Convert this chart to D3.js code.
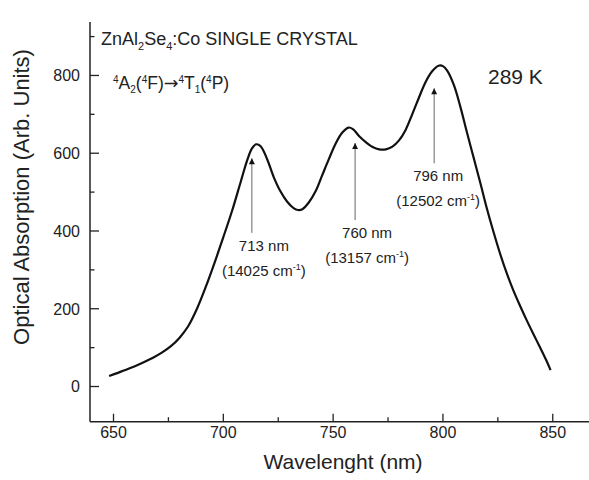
<!DOCTYPE html>
<html>
<head>
<meta charset="utf-8">
<script src="https://cdn.jsdelivr.net/npm/d3@7"></script>
<style>
  html, body { margin: 0; padding: 0; background: #fff; }
  svg { display: block; font-family: "Liberation Sans", Arial, sans-serif; }
</style>
</head>
<body>
<svg id="chart" width="589" height="480"></svg>
<script>
// Absorption spectrum of ZnAl2Se4:Co at 289 K
const wavelength = [648, 652, 656, 660, 664, 668, 672, 676, 680, 684, 688, 692, 696, 700, 704, 708, 711, 713, 715, 717,
  720, 723, 726, 729, 732, 734, 736, 739, 742, 745, 748, 751, 754, 757, 759, 762, 765, 768, 771, 774,
  777, 780, 783, 786, 789, 792, 795, 798, 800, 802, 805, 808, 811, 814, 817, 820, 823, 826, 829, 832,
  835, 838, 841, 844, 847, 849];
const absorption = [27, 35, 44, 53, 63, 74, 87, 103, 125, 155, 200, 256, 318, 384, 452, 528, 584, 612, 623, 618,
  584, 538, 502, 476, 459, 454, 456, 474, 502, 543, 584, 623, 652, 666, 662, 643, 628, 616, 610, 610,
  617, 633, 660, 700, 742, 782, 810, 825, 824, 812, 775, 718, 652, 588, 524, 458, 398, 342, 292, 248,
  209, 172, 137, 103, 68, 42];

// Peak annotations: wavelength (nm), wavenumber (cm-1), arrow tip / tail values
const peakNm = [713, 760, 796];
const peakWavenumber = [14025, 13157, 12502];
const arrowTip = [587, 626, 767];
const arrowTail = [395, 428, 574];

const xTicks = [650, 700, 750, 800, 850];
const xMinorTicks = [675, 725, 775, 825];
const yTicks = [0, 200, 400, 600, 800];
const yMinorTicks = [100, 300, 500, 700, 900];

const svg = d3.select("#chart");
const ink = "#222";

const x = d3.scaleLinear().domain([639.3, 866.5]).range([90, 589]);
const y = d3.scaleLinear().domain([-90.5, 937.5]).range([421.7, 22]);

// arrowhead marker
svg.append("defs").append("marker")
  .attr("id", "head")
  .attr("viewBox", "0 0 10 10")
  .attr("refX", 10).attr("refY", 5)
  .attr("markerUnits", "userSpaceOnUse")
  .attr("markerWidth", 9).attr("markerHeight", 6)
  .attr("orient", "auto")
  .append("path").attr("d", "M0,0 L10,5 L0,10 Z").attr("fill", "#111");

// axes (ticks point inward)
const xAxis = svg.append("g").attr("transform", `translate(0,${y.range()[0]})`);
xAxis.append("line").attr("x1", x.range()[0]).attr("x2", x.range()[1])
  .attr("stroke", ink).attr("stroke-width", 1.5);
xAxis.selectAll(".maj").data(xTicks).join("line")
  .attr("x1", d => x(d)).attr("x2", d => x(d)).attr("y1", 0).attr("y2", -8)
  .attr("stroke", ink).attr("stroke-width", 1.3);
xAxis.selectAll(".min").data(xMinorTicks).join("line")
  .attr("x1", d => x(d)).attr("x2", d => x(d)).attr("y1", 0).attr("y2", -4.5)
  .attr("stroke", ink).attr("stroke-width", 1.3);
xAxis.selectAll("text").data(xTicks).join("text")
  .attr("x", d => x(d)).attr("y", 16)
  .attr("text-anchor", "middle").attr("font-size", 16).attr("fill", ink)
  .text(d => d);

const yAxis = svg.append("g").attr("transform", `translate(${x.range()[0]},0)`);
yAxis.append("line").attr("y1", y.range()[0]).attr("y2", y.range()[1])
  .attr("stroke", ink).attr("stroke-width", 1.5);
yAxis.selectAll(".maj").data(yTicks).join("line")
  .attr("y1", d => y(d)).attr("y2", d => y(d)).attr("x1", 0).attr("x2", 9)
  .attr("stroke", ink).attr("stroke-width", 1.3);
yAxis.selectAll(".min").data(yMinorTicks).join("line")
  .attr("y1", d => y(d)).attr("y2", d => y(d)).attr("x1", 0).attr("x2", 4.5)
  .attr("stroke", ink).attr("stroke-width", 1.3);
yAxis.selectAll("text").data(yTicks).join("text")
  .attr("x", -10).attr("y", d => y(d)).attr("dy", "0.36em")
  .attr("text-anchor", "end").attr("font-size", 16).attr("fill", ink)
  .text(d => d);

// axis titles
svg.append("text").attr("x", 343).attr("y", 469)
  .attr("text-anchor", "middle").attr("font-size", 21).attr("fill", ink)
  .text("Wavelenght (nm)");
svg.append("text")
  .attr("transform", "translate(29,197) rotate(-90)")
  .attr("text-anchor", "middle").attr("font-size", 22).attr("fill", ink)
  .text("Optical Absorption (Arb. Units)");

// spectrum
const pts = wavelength.map((w, i) => [w, absorption[i]]);
svg.append("path")
  .attr("d", d3.line().x(d => x(d[0])).y(d => y(d[1])).curve(d3.curveCatmullRom.alpha(0.5))(pts))
  .attr("fill", "none").attr("stroke", "#111").attr("stroke-width", 2.2)
  .attr("stroke-linejoin", "round");

// peak arrows and labels
const labelShift = [12, 12, 4];
peakNm.forEach((nm, i) => {
  svg.append("line")
    .attr("x1", x(nm)).attr("x2", x(nm))
    .attr("y1", y(arrowTail[i])).attr("y2", y(arrowTip[i]))
    .attr("stroke", "#666").attr("stroke-width", 1)
    .attr("marker-end", "url(#head)");
  const cx = x(nm) + labelShift[i];
  const ty = y(arrowTail[i]) + 18;
  svg.append("text").attr("x", cx).attr("y", ty)
    .attr("text-anchor", "middle").attr("font-size", 15).attr("fill", ink)
    .text(`${nm} nm`);
  const t = svg.append("text").attr("x", cx).attr("y", ty + 25)
    .attr("text-anchor", "middle").attr("font-size", 15).attr("fill", ink);
  t.append("tspan").text(`(${peakWavenumber[i]} cm`);
  t.append("tspan").attr("dy", -6).attr("font-size", 9).text("-1");
  t.append("tspan").attr("dy", 6).text(")");
});

// rich text helper: segments of [text, shift, font] with shift in px (negative = up)
function richText(sel, segments, small) {
  let cur = 0;
  segments.forEach(([s, shift, family]) => {
    const ts = sel.append("tspan").attr("dy", shift - cur).text(s);
    if (shift !== 0) ts.attr("font-size", small);
    if (family) ts.attr("font-family", family);
    cur = shift;
  });
}

// sample title
const title = svg.append("text").attr("x", 101).attr("y", 45)
  .attr("font-size", 18).attr("fill", ink);
richText(title, [["ZnAl", 0], ["2", 5], ["Se", 0], ["4", 5], [":Co SINGLE CRYSTAL", 0]], 11);

// transition label: 4A2(4F) -> 4T1(4P)
const tr = svg.append("text").attr("x", 113).attr("y", 89)
  .attr("font-size", 17.5).attr("fill", ink);
richText(tr, [["4", -6], ["A", 0], ["2", 4], ["(", 0], ["4", -6], ["F)", 0], ["\u2192", 0, "DejaVu Sans"],
  ["4", -6], ["T", 0], ["1", 4], ["(", 0], ["4", -6], ["P)", 0]], 10);

// temperature
svg.append("text").attr("x", 488).attr("y", 84)
  .attr("font-size", 21).attr("fill", ink).text("289 K");
</script>
</body>
</html>
